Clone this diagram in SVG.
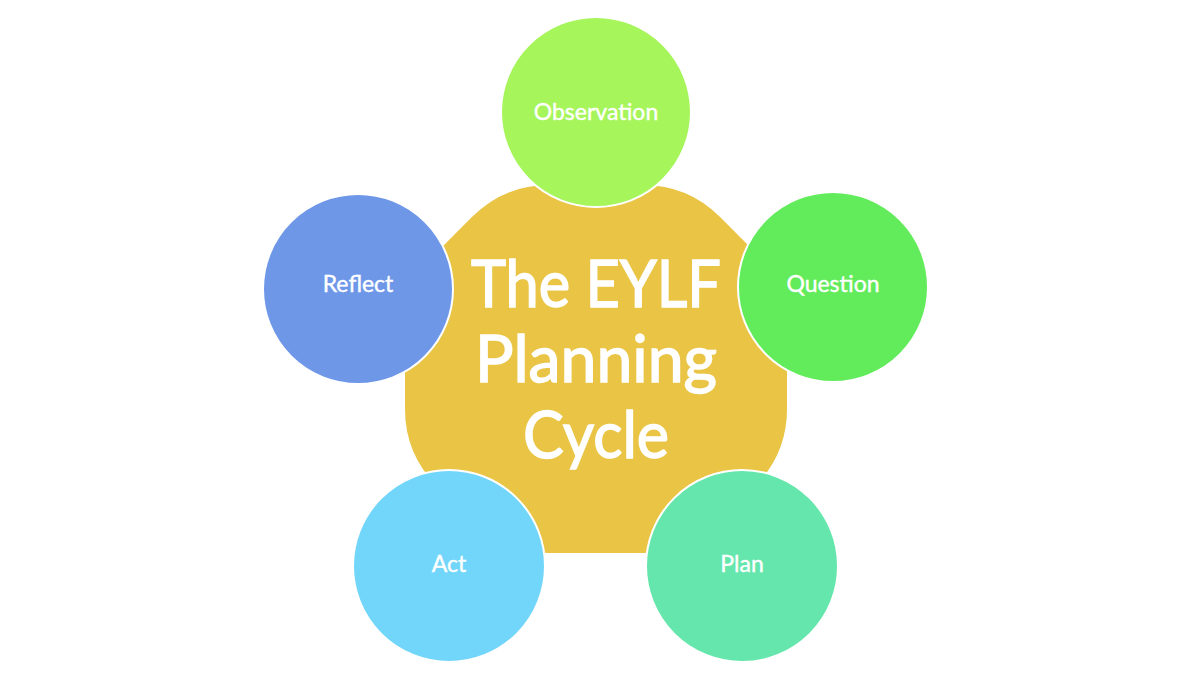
<svg xmlns="http://www.w3.org/2000/svg" width="1200" height="680" viewBox="0 0 1200 680">
  <style>
    .sat { stroke: #ffffff; stroke-width: 2; }
    .lbl { font-family: Lato, "Liberation Sans", sans-serif; font-size: 23px; fill: #ffffff; stroke: #ffffff; stroke-width: 0.4; text-anchor: middle; }
    .title { font-family: Lato, "Liberation Sans", sans-serif; font-size: 65px; fill: #ffffff; stroke: #ffffff; stroke-width: 1.5; text-anchor: middle; }
  </style>
  <rect width="1200" height="680" fill="#ffffff"/>
  <g id="center">
    <path d="M 549,185 L 643,185 Q 688,185 719.8,216.8 L 755.2,252.2 Q 787,284 787,329 L 787,409 Q 787,454 755.2,485.8 L 719.8,521.2 Q 688,553 643,553 L 549,553 Q 504,553 472.2,521.2 L 436.8,485.8 Q 405,454 405,409 L 405,329 Q 405,284 436.8,252.2 L 472.2,216.8 Q 504,185 549,185 Z" fill="#E9C445"/>
    <text class="title" x="596" y="307" textLength="250" lengthAdjust="spacingAndGlyphs">The EYLF</text>
    <text class="title" x="596" y="382" textLength="242" lengthAdjust="spacingAndGlyphs">Planning</text>
    <text class="title" x="596" y="458" textLength="146" lengthAdjust="spacingAndGlyphs">Cycle</text>
  </g>
  <g id="connectors"></g>
  <g id="observation">
    <circle class="sat" cx="596" cy="112" r="95" fill="#A6F55A"/>
    <text class="lbl" x="596" y="120">Observation</text>
  </g>
  <g id="question">
    <circle class="sat" cx="833" cy="287" r="95" fill="#62EC5C"/>
    <text class="lbl" x="833" y="292">Question</text>
  </g>
  <g id="plan">
    <circle class="sat" cx="742" cy="566" r="96" fill="#64E6AC"/>
    <text class="lbl" x="742" y="572">Plan</text>
  </g>
  <g id="act">
    <circle class="sat" cx="449" cy="566" r="96" fill="#72D6FA"/>
    <text class="lbl" x="449" y="572">Act</text>
  </g>
  <g id="reflect">
    <circle class="sat" cx="358" cy="289" r="95" fill="#6E97E8"/>
    <text class="lbl" x="358" y="292">Reflect</text>
  </g>
</svg>
